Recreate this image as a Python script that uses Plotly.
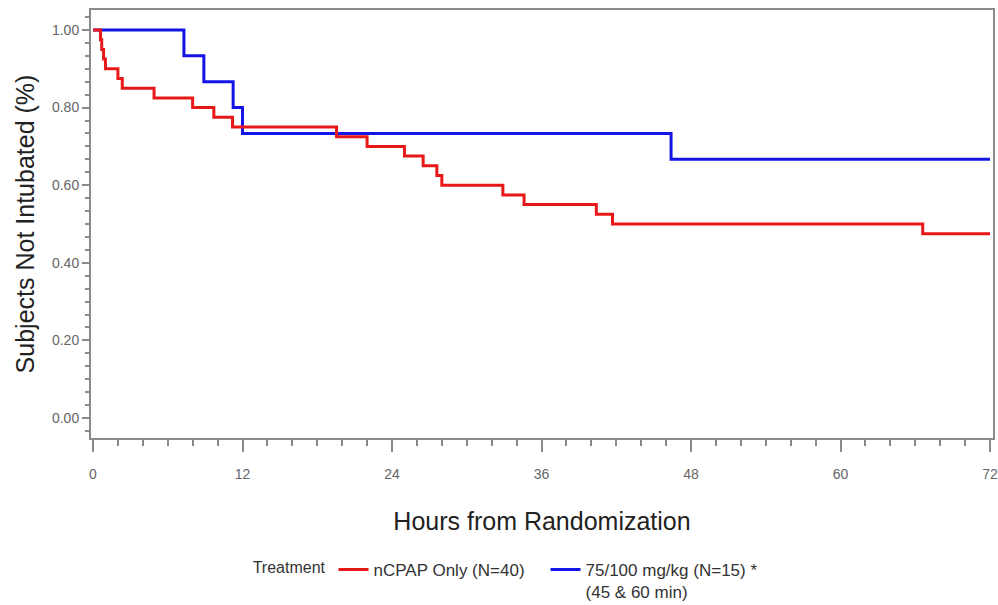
import plotly.graph_objects as go

# Kaplan-Meier style step data
red_name = "nCPAP Only (N=40)"
red_hours = [0, 0.6, 0.7, 0.85, 1.0, 2.0, 2.35, 4.9, 8.0, 9.7, 11.2, 19.55, 22.0,
             25.0, 26.5, 27.6, 28.0, 32.9, 34.6, 40.4, 41.7, 66.6, 72]
red_surv = [1.0, 0.975, 0.95, 0.925, 0.90, 0.875, 0.85, 0.825, 0.80, 0.775, 0.75,
            0.725, 0.70, 0.675, 0.65, 0.625, 0.60, 0.575, 0.55, 0.525, 0.50, 0.475, 0.475]

blue_name = "75/100 mg/kg (N=15) *<br>(45 & 60 min)"
blue_hours = [0, 7.3, 8.9, 11.25, 12.0, 46.4, 72]
blue_surv = [1.0, 0.9333, 0.8667, 0.80, 0.7333, 0.6667, 0.6667]

x_ticks = [0, 12, 24, 36, 48, 60, 72]
y_ticks = [0.0, 0.2, 0.4, 0.6, 0.8, 1.0]
y_tick_text = ["0.00", "0.20", "0.40", "0.60", "0.80", "1.00"]

FONT = "Liberation Sans, Arial, sans-serif"
GRAY = "#8a8a8a"

fig = go.Figure()
fig.add_trace(go.Scatter(x=blue_hours, y=blue_surv, mode="lines", name=blue_name,
                         line=dict(color="#1414e6", width=3, shape="hv"), legendrank=2))
fig.add_trace(go.Scatter(x=red_hours, y=red_surv, mode="lines", name=red_name,
                         line=dict(color="#e81818", width=3, shape="hv"), legendrank=1))

fig.update_layout(
    width=998, height=605,
    margin=dict(l=91, r=5, t=10, b=167, autoexpand=False),
    paper_bgcolor="white", plot_bgcolor="white",
    font=dict(family=FONT, color="#333"),
    showlegend=True,
    legend=dict(orientation="h", x=0.177, xanchor="left", y=-0.266, yanchor="top",
                font=dict(size=17, color="#333"), valign="top",
                title=dict(text="Treatment", side="left", font=dict(size=16, color="#333")),
                itemwidth=30, tracegroupgap=0, entrywidth=167, entrywidthmode="pixels"),
)
fig.update_xaxes(
    automargin=False, ticklabeloverflow="allow",
    range=[-0.16, 72.24], tickvals=x_ticks, ticktext=[str(v) for v in x_ticks],
    showgrid=False, zeroline=False,
    showline=True, mirror=True, linecolor=GRAY, linewidth=2,
    ticks="outside", ticklen=12, tickcolor=GRAY, tickwidth=1.5,
    minor=dict(dtick=2, tick0=0, ticks="outside", ticklen=6, tickcolor=GRAY, tickwidth=1.5),
    tickfont=dict(size=14, color="#666"), ticklabelstandoff=10,
    title=dict(text="Hours from Randomization", font=dict(size=25, color="#222"), standoff=32),
)
fig.update_yaxes(
    automargin=False,
    range=[-0.0515, 1.0515], tickvals=y_ticks, ticktext=y_tick_text,
    showgrid=False, zeroline=False,
    showline=True, mirror=True, linecolor=GRAY, linewidth=2,
    ticks="outside", ticklen=7, tickcolor=GRAY, tickwidth=1.5,
    minor=dict(dtick=0.2 / 6, tick0=0, ticks="outside", ticklen=4, tickcolor=GRAY, tickwidth=1.5),
    tickfont=dict(size=14, color="#666"),
    title=dict(text="Subjects Not Intubated (%)", font=dict(size=25, color="#222"), standoff=10),
)

fig.write_html("out.html")
